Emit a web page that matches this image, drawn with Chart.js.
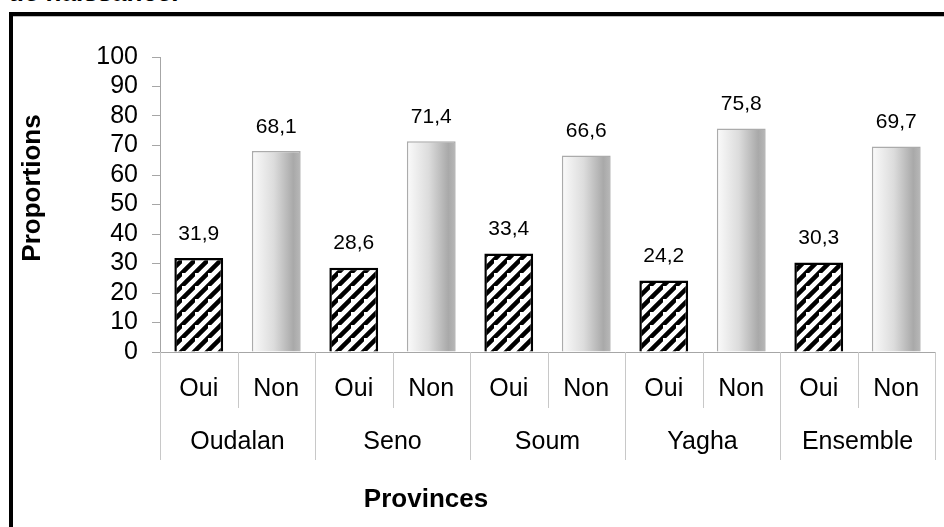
<!DOCTYPE html>
<html lang="fr">
<head>
<meta charset="utf-8">
<title>Proportions par province</title>
<script src="https://cdn.jsdelivr.net/npm/chart.js@4/dist/chart.umd.min.js"></script>
<style>
  html, body { margin: 0; padding: 0; background: #fff; }
  body { width: 944px; height: 527px; position: relative; overflow: hidden; }
  #cut-title {
    position: absolute; left: 8px; top: -23px;
    font: bold 26px "Liberation Sans", Arial, sans-serif; color: #000;
    white-space: nowrap;
  }
  #frame {
    position: absolute; left: 9px; top: 12px; width: 960px; height: 560px;
    border-top: 4px solid #000; border-left: 4px solid #000;
    box-shadow: inset 0 1px 0 #bbb;
  }
  #chart { position: absolute; left: 0; top: 0; }
</style>
</head>
<body>
<div id="cut-title">de naissance.</div>
<div id="frame"></div>
<canvas id="chart" width="944" height="527"></canvas>
<script>
const provinces = ['Oudalan', 'Seno', 'Soum', 'Yagha', 'Ensemble'];
const answers = ['Oui', 'Non'];
const ouiValues = [31.9, 28.6, 33.4, 24.2, 30.3];
const nonValues = [68.1, 71.4, 66.6, 75.8, 69.7];
const yTicks = [0, 10, 20, 30, 40, 50, 60, 70, 80, 90, 100];

const FONT = '"Liberation Sans", Arial, sans-serif';
const BAR_PCT = 0.63;

// one category per province/answer pair
const labels = [];
const ouiData = [];
const nonData = [];
provinces.forEach((p, i) => {
  labels.push(p + ' Oui', p + ' Non');
  ouiData.push(ouiValues[i], null);
  nonData.push(null, nonValues[i]);
});

// hatched pattern for "Oui"
function makeHatch() {
  const s = 13;
  const c = document.createElement('canvas');
  c.width = s; c.height = s;
  const g = c.getContext('2d');
  g.fillStyle = '#fff';
  g.fillRect(0, 0, s, s);
  g.strokeStyle = '#000';
  g.lineWidth = 4.5;
  g.beginPath();
  g.moveTo(-s, s * 2); g.lineTo(s * 2, -s);
  g.moveTo(-s * 2, s); g.lineTo(s, -s * 2);
  g.moveTo(0, s * 2); g.lineTo(s * 2, 0);
  g.stroke();
  return g.createPattern(c, 'repeat');
}
const hatch = makeHatch();

function nonGradient(c) {
  const chart = c.chart;
  const xs = chart.scales.x;
  if (!chart.chartArea || !xs) return '#d0d0d0';
  const cx = xs.getPixelForValue(c.dataIndex);
  const w = (xs.width / labels.length) * BAR_PCT;
  const grad = chart.ctx.createLinearGradient(cx - w / 2, 0, cx + w / 2, 0);
  grad.addColorStop(0, '#fbfbfb');
  grad.addColorStop(0.45, '#dcdcdc');
  grad.addColorStop(0.85, '#a9a9a9');
  grad.addColorStop(1, '#b8b8b8');
  return grad;
}

const valueLabels = {
  id: 'valueLabels',
  afterDatasetsDraw(chart) {
    const ctx = chart.ctx;
    ctx.save();
    ctx.font = '21px ' + FONT;
    ctx.fillStyle = '#000';
    ctx.textAlign = 'center';
    ctx.textBaseline = 'middle';
    chart.data.datasets.forEach((ds, di) => {
      chart.getDatasetMeta(di).data.forEach((bar, i) => {
        const v = ds.data[i];
        if (v == null) return;
        ctx.fillText(v.toFixed(1).replace('.', ','), bar.x, bar.y - 24);
      });
    });
    ctx.restore();
  }
};

// two-level category axis and axis titles
const axisLabels = {
  id: 'axisLabels',
  afterDraw(chart) {
    const ctx = chart.ctx;
    const xs = chart.scales.x;
    const area = chart.chartArea;
    const band = (xs.right - xs.left) / labels.length;
    const base = area.bottom;
    ctx.save();
    ctx.strokeStyle = '#c8c8c8';
    ctx.lineWidth = 1;
    for (let i = 0; i <= labels.length; i++) {
      const x = Math.round(xs.left + i * band) + 0.5;
      const long = i % 2 === 0;
      ctx.beginPath();
      ctx.moveTo(x, base);
      ctx.lineTo(x, base + (long ? 108 : 56));
      ctx.stroke();
    }
    ctx.fillStyle = '#000';
    ctx.textAlign = 'center';
    ctx.textBaseline = 'middle';
    ctx.font = '25px ' + FONT;
    labels.forEach((l, i) => {
      ctx.fillText(answers[i % 2], xs.getPixelForValue(i), base + 37);
    });
    provinces.forEach((p, i) => {
      ctx.fillText(p, xs.left + (i * 2 + 1) * band, base + 90);
    });
    ctx.font = 'bold 26px ' + FONT;
    ctx.fillText('Provinces', 426, 500);
    ctx.translate(33, 188);
    ctx.rotate(-Math.PI / 2);
    ctx.fillText('Proportions', 0, 0);
    ctx.restore();
  }
};

new Chart(document.getElementById('chart'), {
  type: 'bar',
  data: {
    labels: labels,
    datasets: [
      {
        label: 'Oui',
        data: ouiData,
        backgroundColor: hatch,
        borderColor: '#000',
        borderWidth: 2.5,
        skipNull: true,
        barPercentage: BAR_PCT,
        categoryPercentage: 1
      },
      {
        label: 'Non',
        data: nonData,
        backgroundColor: nonGradient,
        borderColor: '#ababab',
        borderWidth: 1.5,
        skipNull: true,
        barPercentage: BAR_PCT,
        categoryPercentage: 1
      }
    ]
  },
  options: {
    responsive: false,
    animation: false,
    layout: { padding: { top: 57, right: 9, left: 0, bottom: 0 } },
    plugins: {
      legend: { display: false },
      tooltip: { enabled: false }
    },
    scales: {
      y: {
        min: yTicks[0],
        max: yTicks[yTicks.length - 1],
        afterBuildTicks: s => { s.ticks = yTicks.map(v => ({ value: v })); },
        afterFit: s => { s.width = 160; },
        ticks: { color: '#000', font: { family: FONT, size: 25 }, padding: 14, autoSkip: false },
        grid: { drawOnChartArea: false, tickLength: 8, color: '#a6a6a6' },
        border: { color: '#a6a6a6' }
      },
      x: {
        afterFit: s => { s.height = 175; },
        ticks: { display: false },
        grid: { display: false },
        border: { color: '#a6a6a6' }
      }
    }
  },
  plugins: [valueLabels, axisLabels]
});
</script>
</body>
</html>
